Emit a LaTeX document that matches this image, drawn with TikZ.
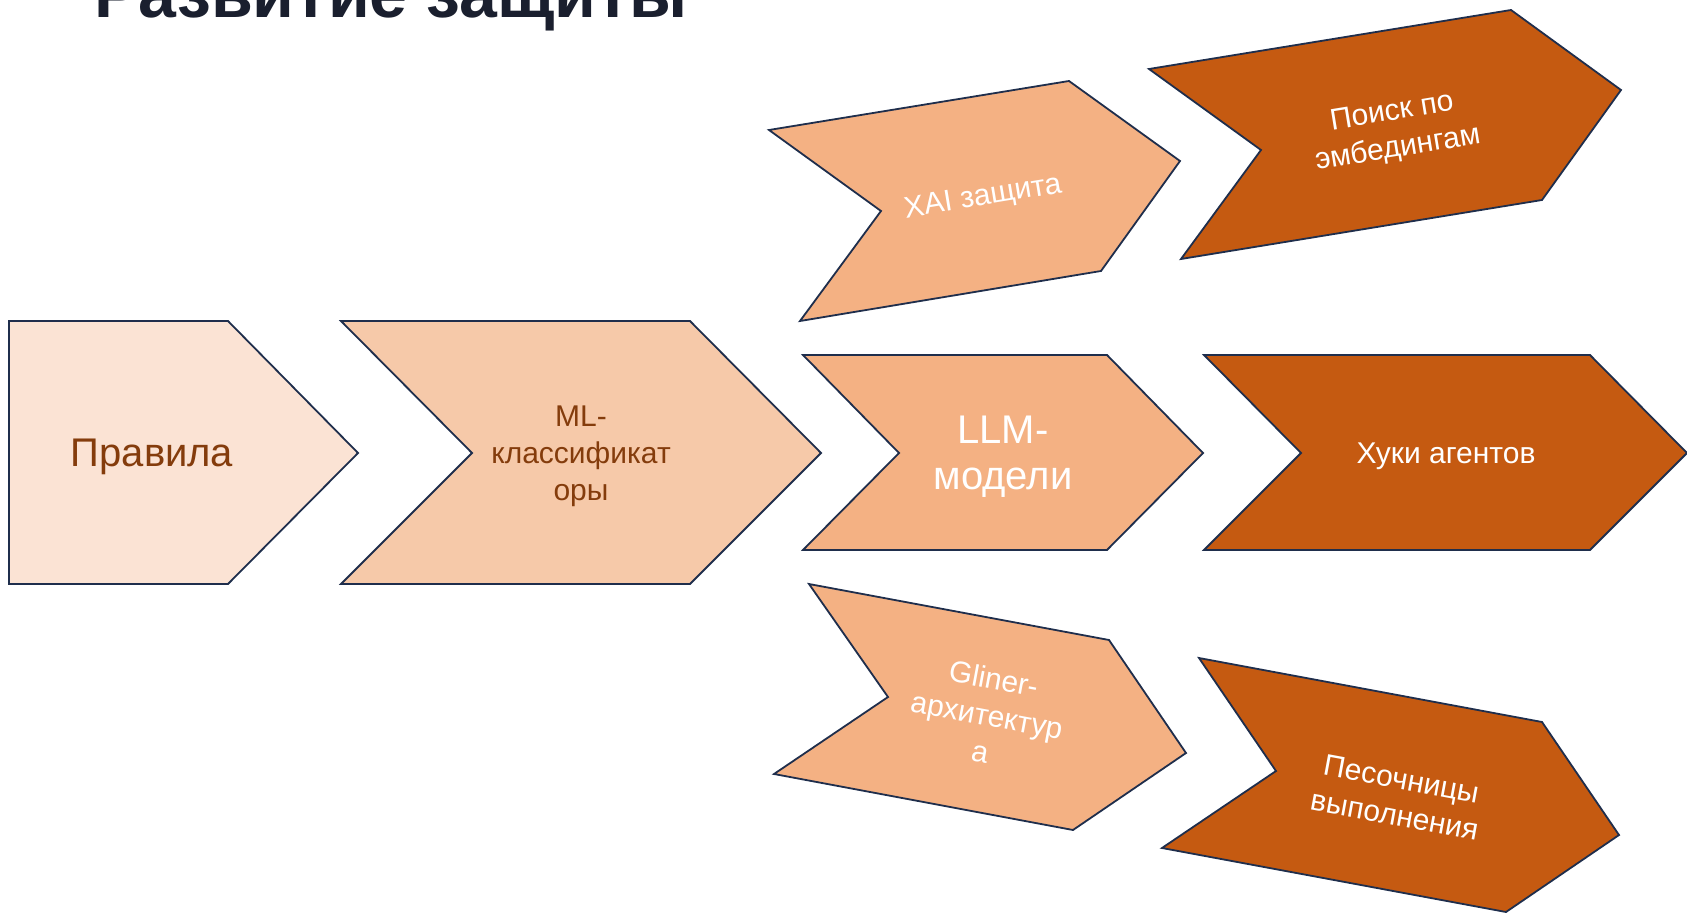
\documentclass[tikz,border=0pt]{standalone}
\usepackage{fontspec}
\setmainfont{Liberation Sans}
\definecolor{c1}{HTML}{FBE3D4}
\definecolor{c2}{HTML}{F6C9A9}
\definecolor{c3}{HTML}{F4B183}
\definecolor{c4}{HTML}{C55A11}
\definecolor{edge}{HTML}{1F2E4C}
\definecolor{brown}{HTML}{843C0C}
\definecolor{titlec}{HTML}{1A1F2E}
\tikzset{
  arrowshape/.style={draw=edge, line width=1.8pt, line join=miter},
  bigtxt/.style={font=\fontsize{40}{46}\selectfont, align=center, inner sep=0pt},
  smalltxt/.style={font=\fontsize{30}{37}\selectfont, align=center, inner sep=0pt},
}
\begin{document}
\begin{tikzpicture}[x=1pt,y=-1pt]
\useasboundingbox (0,0) rectangle (1687,915);
% title
\node[anchor=base west, inner sep=0pt, text=titlec, font=\fontsize{68}{70}\selectfont\bfseries] (title) at (94,18) {Развитие защиты};
% main row
\path[arrowshape, fill=c1] (9,321) -- (228,321) -- (358,453) -- (228,584) -- (9,584) -- cycle;
\path[arrowshape, fill=c2] (341,321) -- (690,321) -- (821,453) -- (690,584) -- (341,584) -- (472,453) -- cycle;
\path[arrowshape, fill=c3] (803,355) -- (1107,355) -- (1203,453) -- (1107,550) -- (803,550) -- (899,453) -- cycle;
\path[arrowshape, fill=c4] (1204,355) -- (1590,355) -- (1687,453) -- (1590,550) -- (1204,550) -- (1301,453) -- cycle;
% upper branch
\path[arrowshape, fill=c3] (769,130) -- (1069,81) -- (1180,161) -- (1101,271) -- (800,321) -- (881,211) -- cycle;
\path[arrowshape, fill=c4] (1149,69) -- (1511,10) -- (1621,90) -- (1542,200) -- (1181,259) -- (1261,150) -- cycle;
% lower branch
\path[arrowshape, fill=c3] (809,584) -- (1109,640) -- (1186,753) -- (1073,830) -- (774,774) -- (888,697) -- cycle;
\path[arrowshape, fill=c4] (1199,658) -- (1542,722) -- (1619,835) -- (1506,912) -- (1162,848) -- (1276,771) -- cycle;
% labels
\node[bigtxt, text=brown] (rules) at (152,457) {Правила};
\node[smalltxt, text=brown] (ml) at (581,456) {ML-\\классификат\\оры};
\node[bigtxt, text=white] (llm) at (1003,457) {LLM-\\модели};
\node[smalltxt, text=white] (hooks) at (1446,456) {Хуки агентов};
\node[smalltxt, text=white, rotate=9.4] (xai) at (983,198) {XAI защита};
\node[smalltxt, text=white, rotate=9.3] (emb) at (1395,131) {Поиск по\\эмбедингам};
\node[smalltxt, text=white, rotate=-10.6] (gliner) at (987,715) {Gliner-\\архитектур\\а};
\node[smalltxt, text=white, rotate=-10.5] (sand) at (1398,797) {Песочницы\\выполнения};
\end{tikzpicture}
\end{document}
